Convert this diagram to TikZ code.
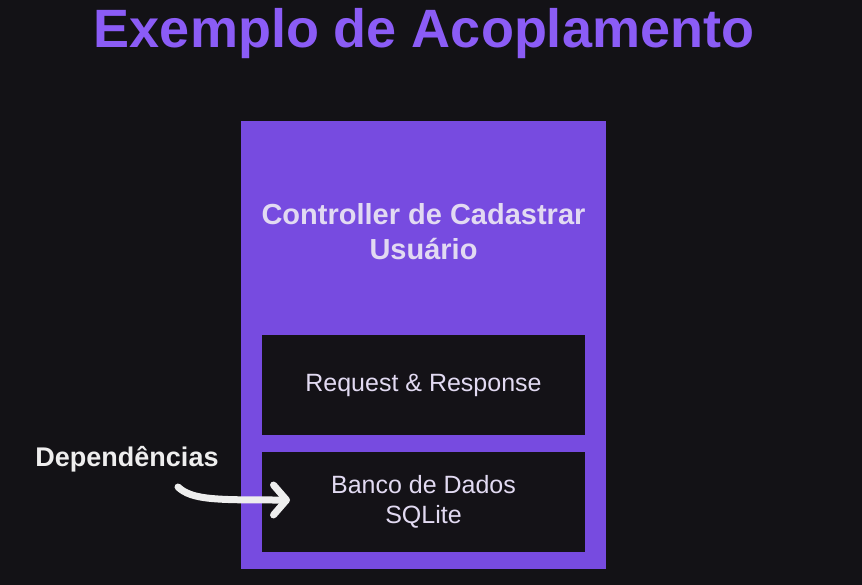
\documentclass[tikz,border=0pt]{standalone}
\usepackage{fontspec}
\setmainfont{Liberation Sans}
\usetikzlibrary{arrows.meta}

\definecolor{bgdark}{HTML}{131216}
\definecolor{titlepurple}{HTML}{8B5CF6}
\definecolor{boxpurple}{HTML}{774BE0}
\definecolor{boxdark}{HTML}{141217}
\definecolor{lighttext}{HTML}{E2DAF2}
\definecolor{arrowwhite}{HTML}{EEEEEE}

\begin{document}
\begin{tikzpicture}[x=1pt, y=-1pt,
  outerbox/.style={fill=boxpurple, draw=none, inner sep=0pt, minimum width=365pt, minimum height=448pt},
  innerbox/.style={fill=boxdark, draw=none, inner sep=0pt, minimum width=323pt, minimum height=100pt,
    text=lighttext, align=center, font=\fontsize{25}{30}\selectfont}]
\fill[bgdark] (0,0) rectangle (862,585);
\node[text=titlepurple, font=\fontsize{54}{60}\selectfont\bfseries, inner sep=0pt] (title) at (424,34) {Exemplo de Acoplamento};
\node[outerbox] (ctrl) at (423.5,345) {};
\node[text=lighttext, align=center, font=\fontsize{29}{35}\selectfont\bfseries, inner sep=0pt] (ctrlname) at (423.5,232) {Controller de Cadastrar\\Usuário};
\node[innerbox] (reqres) at (423.5,385) {Request \& Response};
\node[innerbox] (banco) at (423.5,502) {Banco de Dados\\SQLite};
\node[text=arrowwhite, font=\fontsize{27}{30}\selectfont\bfseries, inner sep=0pt] (dep) at (127,459) {Dependências};
\coordinate (arrstart) at (178,487);
\coordinate (arrtip) at (290,500);
\draw[arrowwhite, line width=7pt, line cap=round,
  -{Straight Barb[length=13pt, width=30pt, line cap=round, line join=round]}]
  (arrstart) .. controls (192,500) and (215,500) .. (arrtip);
\path (0,0) rectangle (862,585);
\end{tikzpicture}
\end{document}
